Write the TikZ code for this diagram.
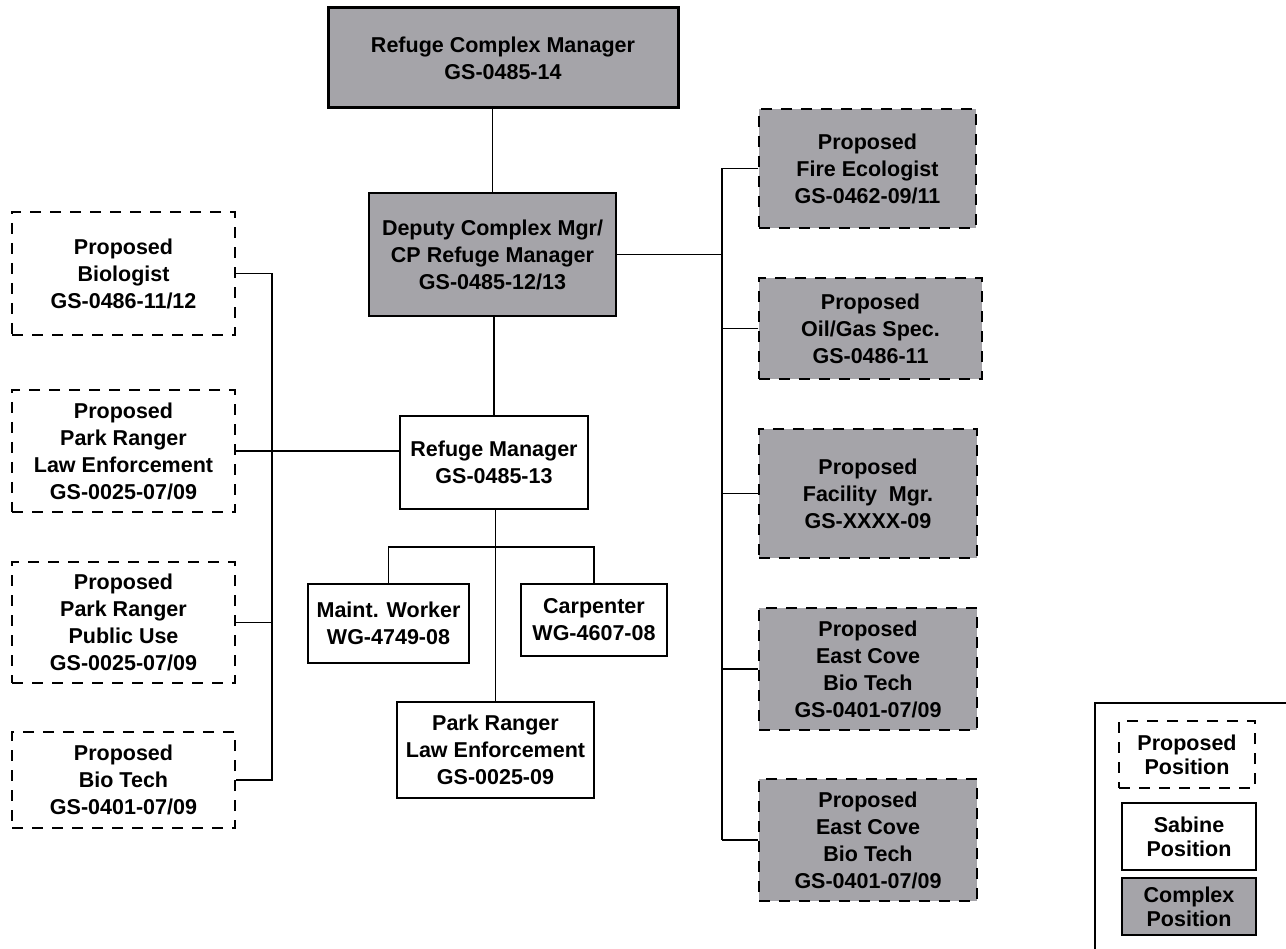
\documentclass[tikz,border=0pt]{standalone}
\usepackage{fontspec}
\setmainfont{Liberation Sans}
\definecolor{boxgray}{RGB}{165,164,169}
\begin{document}
\begin{tikzpicture}[x=1pt,y=-1pt,
  base/.style={align=center, font=\fontsize{21.5}{27}\selectfont\bfseries, inner sep=0pt, text=black},
  complexbox/.style={base, draw=black, fill=boxgray, line width=3pt},
  proposedbox/.style={base, draw=black, dash pattern=on 11pt off 9pt, line width=1.3pt},
  proposedgray/.style={proposedbox, fill=boxgray},
  sabinebox/.style={base, draw=black, line width=1.5pt},
  legendtext/.style={font=\fontsize{21.5}{24}\selectfont\bfseries},
  link/.style={line width=1.4pt}]
\useasboundingbox (0,0) rectangle (1286,949);

% central column
\node[complexbox, minimum width=350, minimum height=100] (top) at (503,58) {Refuge Complex Manager\\GS-0485-14};
\node[complexbox, line width=2.5pt, minimum width=247, minimum height=123] (deputy) at (492.5,254.5) {Deputy Complex Mgr/\\CP Refuge Manager\\GS-0485-12/13};
\node[sabinebox, minimum width=188, minimum height=93] (rm) at (494,462.5) {Refuge Manager\\GS-0485-13};
\node[sabinebox, minimum width=161, minimum height=79] (maint) at (388.5,623.5) {Maint. Worker\\WG-4749-08};
\node[sabinebox, minimum width=146, minimum height=72] (carp) at (594,620) {Carpenter\\WG-4607-08};
\node[sabinebox, minimum width=197, minimum height=96] (pr) at (495.5,750) {Park Ranger\\Law Enforcement\\GS-0025-09};

% left column
\node[proposedbox, minimum width=223, minimum height=123] (bio) at (123.5,273.5) {Proposed\\Biologist\\GS-0486-11/12};
\node[proposedbox, minimum width=223, minimum height=122] (law) at (123.5,451) {Proposed\\Park Ranger\\Law Enforcement\\GS-0025-07/09};
\node[proposedbox, minimum width=223, minimum height=121] (pub) at (123.5,622.5) {Proposed\\Park Ranger\\Public Use\\GS-0025-07/09};
\node[proposedbox, minimum width=223, minimum height=96] (biotech) at (123.5,780) {Proposed\\Bio Tech\\GS-0401-07/09};

% right column
\node[proposedgray, minimum width=217, minimum height=119] (fire) at (867.5,168.5) {Proposed\\Fire Ecologist\\GS-0462-09/11};
\node[proposedgray, minimum width=223, minimum height=101] (oil) at (870.5,328.5) {Proposed\\Oil/Gas Spec.\\GS-0486-11};
\node[proposedgray, minimum width=218, minimum height=129] (fac) at (868,493.5) {Proposed\\Facility\ \ Mgr.\\GS-XXXX-09};
\node[proposedgray, minimum width=218, minimum height=122] (ecA) at (868,669) {Proposed\\East Cove\\Bio Tech\\GS-0401-07/09};
\node[proposedgray, minimum width=218, minimum height=122] (ecB) at (868,840) {Proposed\\East Cove\\Bio Tech\\GS-0401-07/09};

% legend
\coordinate (lf1) at (1095,949);
\coordinate (lf2) at (1095,703);
\coordinate (lf3) at (1286,703);
\draw[link] (lf1) -- (lf2) -- (lf3);
\node[proposedbox, legendtext, minimum width=136, minimum height=67] (lgA) at (1187,754.5) {Proposed\\Position};
\node[sabinebox, legendtext, minimum width=134, minimum height=67] (lgB) at (1189,836.5) {Sabine\\Position};
\node[sabinebox, legendtext, fill=boxgray, minimum width=134, minimum height=57] (lgC) at (1189,906.5) {Complex\\Position};

% connectors
\draw[link] (deputy.north) -- (deputy.north |- top.south);
\draw[link] (rm.north) -- (rm.north |- deputy.south);
\draw[link] (pr.north) -- (pr.north |- rm.south);
\coordinate (mbr) at (496,547);
\draw[link] (maint.north) |- (mbr) -| (carp.north);

\coordinate (rbus) at (722,0);
\draw[link] (deputy.east) -- (deputy.east -| rbus);
\draw[link] (fire.west -| rbus) -- (ecB.west -| rbus);
\foreach \n in {fire,oil,fac,ecA,ecB} \draw[link] (\n.west) -- (\n.west -| rbus);

\coordinate (lbus) at (272,0);
\draw[link] (bio.east) -- (bio.east -| lbus) -- (biotech.east -| lbus) -- (biotech.east);
\draw[link] (pub.east) -- (pub.east -| lbus);
\draw[link] (law.east) -- (law.east -| rm.west);
\end{tikzpicture}
\end{document}
